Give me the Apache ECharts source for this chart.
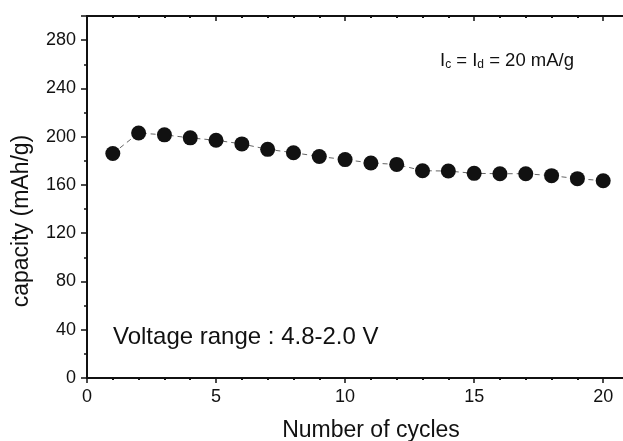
<!DOCTYPE html>
<html><head><meta charset="utf-8">
<script src="https://cdn.jsdelivr.net/npm/echarts@6/dist/echarts.min.js"></script>
<style>html,body{margin:0;padding:0;background:#fff}#c{width:623px;height:441px}</style>
</head><body><div id="c"></div>
<script>
const cycles = [1,2,3,4,5,6,7,8,9,10,11,12,13,14,15,16,17,18,19,20];
const capacity = [186,203,201.5,199,197,194,189.5,186.7,183.6,181,178.2,177,171.8,171.5,169.6,169.3,169.3,167.7,165.2,163.5];
const xTicks = [0,5,10,15,20];
const yTicks = [0,40,80,120,160,200,240,280];

const chart = echarts.init(document.getElementById('c'), null, {renderer:'canvas'});
const font = 'Liberation Sans, Arial, sans-serif';
const axisCol = '#111';
chart.setOption({
  animation:false,
  backgroundColor:'#fff',
  grid:{left:87, top:16, width:542, height:362, containLabel:false, outerBoundsMode:'none'},
  xAxis:[{
    type:'value', min:0, max:21, interval:5, position:'bottom',
    axisLine:{lineStyle:{color:axisCol,width:2}},
    axisTick:{show:true,length:5,lineStyle:{color:axisCol,width:1.5}},
    minorTick:{show:true,splitNumber:5,length:2,lineStyle:{color:axisCol,width:2}},
    splitLine:{show:false},
    axisLabel:{color:'#111',fontSize:18,fontFamily:font,margin:10,
      formatter:v=>xTicks.includes(v)?String(v):''}
  },{
    type:'value', min:0, max:21, interval:5, position:'top',
    axisLine:{lineStyle:{color:axisCol,width:2}},
    axisTick:{show:true,inside:true,length:5,lineStyle:{color:axisCol,width:1.5}},
    minorTick:{show:true,splitNumber:5,length:2,lineStyle:{color:axisCol,width:2}},
    axisLabel:{show:false}, splitLine:{show:false}
  }],
  yAxis:[{
    type:'value', min:0, max:300, interval:40,
    axisLine:{show:true,lineStyle:{color:axisCol,width:2}},
    axisTick:{show:true,length:6,lineStyle:{color:axisCol,width:1.5}},
    minorTick:{show:true,splitNumber:2,length:3,lineStyle:{color:axisCol,width:1.5}},
    splitLine:{show:false},
    axisLabel:{color:'#111',fontSize:18,fontFamily:font,margin:11,showMaxLabel:false,
      formatter:v=>yTicks.includes(v)?String(v):''}
  }],
  graphic:[
    {type:'text', x:371, y:431, style:{text:'Number of cycles', fill:'#111', font:'23px '+font, align:'center', verticalAlign:'middle'}},
    {type:'text', x:22, y:221, rotation:Math.PI/2, style:{text:'capacity (mAh/g)', fill:'#111', font:'23px '+font, align:'center', verticalAlign:'middle'}},
    {type:'text', left:113, top:325, style:{text:'Voltage range : 4.8-2.0 V', fill:'#111', font:'24px '+font}},
    {type:'text', left:440, top:51, style:{
      text:'I{s|c} = I{s|d} = 20 mA/g', fill:'#111', font:'18.5px '+font,
      rich:{s:{fontSize:12, fontFamily:font, fill:'#111', verticalAlign:'bottom', padding:[9,0,0,0]}}
    }}
  ],
  series:[{
    type:'line', xAxisIndex:0, yAxisIndex:0,
    data:cycles.map((c,i)=>[c,capacity[i]]),
    symbol:'circle', symbolSize:15,
    itemStyle:{color:'#111'},
    lineStyle:{color:'#666',width:1,type:[5,4]}
  }]
});
</script></body></html>
